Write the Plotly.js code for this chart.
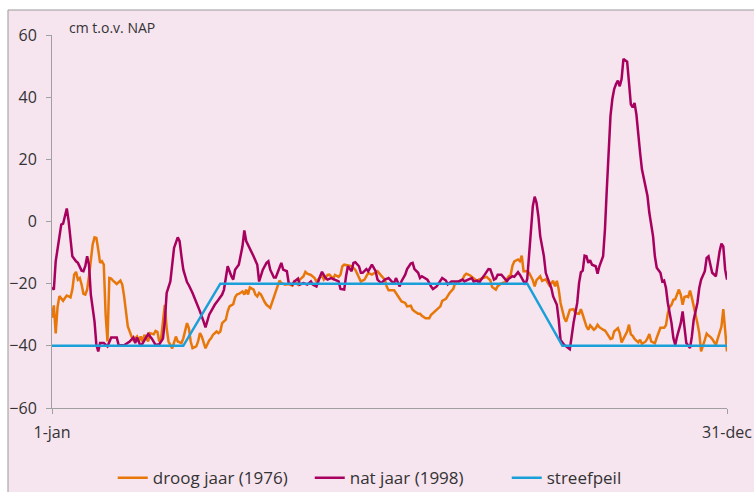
<!DOCTYPE html>
<html>
<head>
<meta charset="utf-8">
<script src="https://cdn.plot.ly/plotly-3.0.1.min.js"></script>
<style>html,body{margin:0;padding:0;background:#fff;}#chart{width:754px;height:492px;}</style>
</head>
<body>
<div id="chart"></div>
<script>
// x tick labels
const xTickVals = [0, 365];
const xTickText = ['1-jan', '31-dec'];

// droog jaar (1976) — day of year, waterstand (cm t.o.v. NAP)
const droogDays = [0,1,2,3,4,5,6,7,8,10,11,12,13,14,15,16,17,18,19,20,21,22,23,24,25,26,27,28,29,30,31,32,33,34,35,37,38,39,40,41,43,44,46,47,48,49,50,52,53,55,56,57,58,59,60,61,62,63,65,66,67,68,70,71,72,73,74,75,76,78,79,80,81,82,83,85,86,87,89,90,91,92,94,95,96,98,99,100,101,103,104,105,106,107,109,110,111,112,113,115,116,118,119,120,121,122,123,124,126,128,130,131,133,134,136,137,138,140,141,142,143,145,146,147,149,150,152,153,155,156,157,158,160,162,164,166,167,169,171,173,175,176,178,180,181,182,185,186,188,189,191,192,194,195,196,198,199,200,202,204,205,207,208,210,211,213,214,215,217,218,220,222,223,224,226,228,230,231,233,235,237,238,240,241,243,245,247,248,249,250,252,253,254,255,256,257,258,260,261,262,264,265,267,268,269,271,272,273,274,275,277,278,279,280,282,283,285,286,287,289,290,291,293,294,295,296,298,299,300,302,303,304,306,307,308,310,311,312,313,314,315,317,318,319,321,322,323,324,326,327,328,329,331,332,333,334,335,336,337,339,340,341,342,343,344,345,346,348,349,350,351,353,354,355,356,357,359,360,362,363,364,365];
const droogValues = [-31,-27,-36,-27.5,-24,-24.6,-25.5,-24.6,-23.8,-24.4,-21.9,-17.1,-16.2,-18.7,-18.2,-20.3,-23.3,-23.5,-21.9,-17.6,-11.7,-7.4,-5.1,-5.3,-9,-13.3,-12.8,-13.9,-30,-38.6,-18.2,-18.4,-19,-19.5,-20.1,-19,-20.3,-24.1,-30,-33.8,-37,-38.1,-37,-38.6,-37,-38.6,-36.5,-38.6,-35.9,-36.3,-35.2,-35.5,-38.6,-37.6,-32.2,-26.8,-34.3,-38.6,-40.8,-38.6,-37,-38.6,-39.1,-37.6,-35.4,-32.7,-34.3,-38.6,-40.8,-40.2,-38.6,-35.9,-37,-38.6,-40.8,-38.3,-37.6,-36.5,-35.4,-35.9,-35.4,-32.7,-31.6,-28.9,-27.3,-26.6,-24.4,-23.5,-23.3,-22.5,-23.5,-21.9,-23.5,-21.2,-21.9,-23.5,-24.1,-23,-23.5,-25.9,-26.8,-27.8,-25.9,-24.6,-22.5,-20.3,-19,-19.8,-20.3,-20.1,-20.6,-19.3,-20.3,-18.7,-17.6,-16.2,-16.8,-17.2,-17.6,-18.2,-19.3,-17.9,-17.2,-18.7,-17.2,-17.1,-18.4,-17.2,-17.8,-17.1,-14.4,-13.9,-14.2,-14.4,-15.5,-18.2,-19.3,-18.7,-16.5,-17.1,-16.5,-16,-17.4,-18.7,-20.9,-22.1,-22.1,-23,-24.9,-25.7,-26.2,-27.3,-27.1,-28.4,-28.9,-29.7,-29.7,-30.3,-31.1,-31.1,-30,-28.9,-28.6,-27.3,-25.5,-24.9,-23.9,-23,-21.7,-19.8,-19.3,-18.7,-17.4,-16.8,-17.3,-18.2,-19.2,-18.6,-18.2,-17.8,-18.9,-21.1,-21.9,-20.8,-19.9,-19.5,-17.6,-17.2,-14.2,-12.8,-12.2,-12.8,-11,-16,-16,-16,-16.5,-18.9,-20.9,-18.9,-17.6,-19.1,-18.6,-19.7,-20.6,-19.1,-20.9,-19.1,-21.9,-26.2,-31.1,-32.2,-30.5,-28.4,-28.2,-29.5,-29.7,-28.2,-30,-33.8,-34.8,-33.4,-34.8,-34.3,-33.2,-34,-34.8,-35.1,-35.9,-37.8,-37.6,-35.4,-34.3,-35.9,-38.9,-36.3,-35.4,-33.2,-36.3,-36.8,-37.8,-38.9,-38,-39.4,-38.6,-37.6,-36.2,-38.6,-39.2,-37.4,-35.6,-34.2,-34.2,-33.4,-29.5,-27.5,-26.8,-25.2,-25,-21.9,-23.5,-26.8,-24.3,-24.1,-24.3,-22.2,-24.5,-29.5,-32.7,-35.9,-41.8,-38.1,-36.1,-36.7,-37.1,-37.8,-39.7,-37.7,-33.8,-28.2,-35,-41.8];

// nat jaar (1998)
const natDays = [0,1,2,4,5,6,7,8,9,10,11,13,14,16,17,18,19,20,21,23,24,25,26,28,30,32,35,36,39,42,44,45,46,48,50,52,54,56,58,60,61,62,64,65,66,68,69,70,71,73,74,76,78,80,82,83,85,86,88,90,92,93,94,95,97,98,99,101,103,104,105,107,109,111,112,114,116,117,118,120,121,123,124,125,127,128,130,131,133,134,136,138,140,141,143,145,146,148,149,151,153,155,156,158,159,160,162,163,164,166,167,168,170,171,173,175,176,178,180,182,184,185,186,188,189,191,192,194,195,196,198,199,200,202,203,205,206,208,210,211,213,214,216,218,220,222,223,225,227,228,230,231,232,234,236,237,239,240,241,243,245,246,247,249,250,252,253,255,256,257,258,259,260,261,262,263,264,266,267,268,270,271,273,274,275,277,278,280,281,282,284,285,286,287,288,289,290,291,292,294,295,296,298,299,300,301,302,303,304,305,306,307,308,309,311,312,313,314,315,316,317,318,319,321,322,323,325,326,327,329,330,331,332,333,335,336,337,338,340,341,342,343,345,346,347,349,350,351,353,354,355,356,357,359,360,361,362,363,364,365];
const natValues = [-21.2,-21.9,-12.8,-5.3,-1,-0.7,2.3,4.2,0.1,-5.3,-11.2,-12.8,-13.3,-15.8,-16,-14.4,-11.2,-13.9,-23.5,-32.2,-39.7,-41.8,-39.1,-39.1,-40.2,-37.3,-37.3,-39.7,-39.8,-38.6,-37.3,-39.1,-37.3,-40.2,-38,-36.2,-37.7,-39.7,-39.5,-37.7,-32.2,-23,-19.3,-13.9,-8.5,-5.1,-6.3,-11.2,-15.5,-19.5,-20.5,-23,-25.8,-28.9,-32.2,-34.1,-30,-28.9,-26.8,-25.2,-23.5,-21.9,-17.6,-14.4,-17.6,-18.7,-15.5,-13.9,-8,-2.9,-6.3,-8.5,-11.2,-13.9,-19.3,-15.5,-13.3,-12.8,-15.5,-18,-18,-14.9,-13.3,-15.5,-16,-19.8,-20.3,-19.3,-18.4,-20.3,-19.8,-20.3,-19.3,-20.3,-20.9,-17.6,-16.2,-18.2,-18.7,-18.2,-18.7,-19.3,-21.7,-21.9,-17.6,-14.4,-16,-13.3,-13.1,-14.4,-16.5,-16.5,-15.3,-16,-13.9,-16,-18.7,-19.8,-18.7,-18.2,-19.5,-19.8,-18.2,-20.9,-19.2,-17.1,-15.3,-13.5,-13.3,-15.3,-16.5,-18.2,-17.6,-18.4,-18.7,-20.9,-21.7,-20.9,-19.3,-18.2,-19,-20.2,-19.3,-19.3,-19.3,-18.7,-19.3,-18.7,-18.2,-19.3,-19,-19.8,-18.7,-17.1,-15.3,-15.4,-18.7,-18.4,-17.1,-17.1,-18.7,-19.2,-18.4,-17.6,-17.8,-16.3,-17.1,-19.3,-20.3,-18.4,-11.2,-1.5,4.9,8,6,1.7,-4.7,-11.2,-16.5,-18.2,-21.4,-24.1,-26.8,-31.6,-38.1,-39.7,-40.2,-41.1,-37,-32.7,-26.2,-19.8,-16.3,-15.8,-11,-11.2,-13.3,-12.5,-13.9,-14.4,-16.8,-14.4,-11.2,-2.6,10.3,23.2,34,39.4,42.6,44.2,45.3,43.5,45.8,52.3,51.4,44.7,37.7,36.7,38.1,34.5,27.5,22.2,16.8,11.4,8.2,2.8,-4.7,-11.2,-14.9,-16.5,-19.3,-19,-21.4,-26.2,-32.7,-37.5,-39.7,-37,-32.7,-28.9,-33.8,-39.1,-40.7,-37,-31.6,-26.2,-21.4,-18.7,-16,-11.7,-11.2,-13.9,-16.5,-17.6,-13.3,-9.6,-7.1,-8,-15.5,-18.7];

// streefpeil
const streefDays = [0, 71, 91, 257, 276, 365];
const streefValues = [-40, -40, -20, -20, -40, -40];

const seriesNames = ['droog jaar (1976)', 'nat jaar (1998)', 'streefpeil'];
const seriesColors = ['#e8770a', '#a8005e', '#1a9fd9'];

const fontFam = '"Open Sans", Lato, sans-serif';

const traces = [
  {x: droogDays, y: droogValues, name: seriesNames[0]},
  {x: natDays, y: natValues, name: seriesNames[1]},
  {x: streefDays, y: streefValues, name: seriesNames[2]}
].map((t, i) => Object.assign(t, {
  type: 'scatter', mode: 'lines',
  line: {color: seriesColors[i], width: 2.5},
  hoverinfo: 'x+y+name'
}));

const layout = {
  width: 754, height: 492,
  margin: {l: 52, r: 27, t: 35, b: 84, autoexpand: false},
  paper_bgcolor: '#ffffff',
  plot_bgcolor: 'rgba(0,0,0,0)',
  font: {family: fontFam, size: 15, color: '#333333'},
  showlegend: true,
  legend: {
    orientation: 'h', x: 0.09, xanchor: 'left', y: -0.188, yanchor: 'middle',
    bgcolor: 'rgba(0,0,0,0)', font: {family: fontFam, size: 17, color: '#333333'},
    itemwidth: 30, entrywidth: 152, entrywidthmode: 'pixels', traceorder: 'normal'
  },
  xaxis: {
    range: [0, 365], tickvals: xTickVals, ticktext: xTickText,
    showgrid: false, zeroline: false, showline: true, linecolor: '#a0a0a0', linewidth: 1,
    ticks: 'outside', ticklen: 5, tickcolor: '#a0a0a0', ticklabelstandoff: 5,
    tickfont: {size: 16, color: '#333333'}, fixedrange: true
  },
  yaxis: {
    range: [-60, 60], dtick: 20, tick0: 0,
    showgrid: false, zeroline: false, showline: true, linecolor: '#a0a0a0', linewidth: 1,
    ticks: 'outside', ticklen: 5, tickcolor: '#a0a0a0', ticklabelstandoff: 6,
    tickfont: {size: 16, color: '#333333'}, fixedrange: true
  },
  shapes: [{
    type: 'rect', xref: 'paper', yref: 'paper', layer: 'below',
    x0: -0.0652, x1: 1.06, y0: -0.26, y1: 1.067,
    fillcolor: '#f6e4ef', line: {color: '#9a9a9a', width: 1}
  }],
  annotations: [{
    text: 'cm t.o.v. NAP', xref: 'paper', yref: 'paper',
    x: 0.022, y: 1.019, xanchor: 'left', yanchor: 'middle', showarrow: false,
    font: {family: fontFam, size: 14, color: '#333333'}
  }]
};

Plotly.newPlot('chart', traces, layout, {displayModeBar: false});
</script>
</body>
</html>
